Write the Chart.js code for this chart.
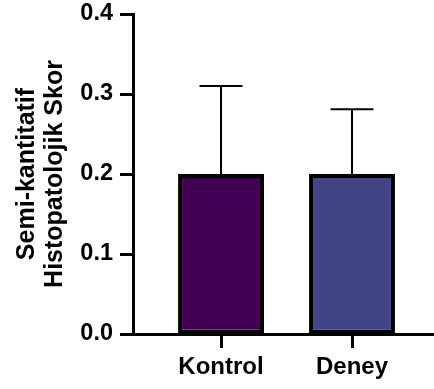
<!DOCTYPE html>
<html>
<head>
<meta charset="utf-8">
<script src="https://cdn.jsdelivr.net/npm/chart.js@4"></script>
<style>
  html, body { margin: 0; padding: 0; background: #fff; }
  #wrap { width: 434px; height: 389px; }
</style>
</head>
<body>
<div id="wrap"><canvas id="skorChart"></canvas></div>
<script>
// data
const groups = ['Kontrol', 'Deney'];
const means = [0.2, 0.2];
const errors = [0.11, 0.081];
const barColors = ['#440154', '#414487'];
const yTicks = [0, 0.1, 0.2, 0.3, 0.4];

const FONT = "'Liberation Sans', Arial, Helvetica, sans-serif";

// simple error bar drawer (top whisker only)
const errorBars = {
    id: 'errorBars',
    beforeDatasetsDraw(chart) {
        const ctx = chart.ctx;
        const meta = chart.getDatasetMeta(0);
        const y = chart.scales.y;
        ctx.save();
        ctx.strokeStyle = '#000';
        ctx.lineWidth = 2;
        meta.data.forEach((bar, i) => {
            const yTop = y.getPixelForValue(means[i] + errors[i]);
            const yMid = y.getPixelForValue(means[i]);
            const half = bar.width / 4;
            ctx.beginPath();
            ctx.moveTo(bar.x, yMid);
            ctx.lineTo(bar.x, yTop);
            ctx.moveTo(bar.x - half, yTop);
            ctx.lineTo(bar.x + half, yTop);
            ctx.stroke();
        });
        ctx.restore();
    }
};

const ctx = document.getElementById('skorChart').getContext('2d');
const chart = new Chart(ctx, {
    type: 'bar',
    data: {
        datasets: [{
            data: groups.map((g, i) => ({ x: i + 1, y: means[i] })),
            backgroundColor: barColors,
            borderColor: '#000',
            borderWidth: 4,
            borderSkipped: false,
            categoryPercentage: 1,
            barPercentage: 0.656
        }]
    },
    options: {
        responsive: true,
        maintainAspectRatio: false,
        animation: false,
        devicePixelRatio: 1,
        layout: { padding: { top: 14, right: 0, bottom: 0, left: 0 } },
        plugins: {
            legend: { display: false },
            tooltip: { enabled: false }
        },
        scales: {
            x: {
                type: 'linear',
                min: 0.328,
                max: 2.626,
                offset: false,
                afterBuildTicks: (scale) => {
                    scale.ticks = groups.map((g, i) => ({ value: i + 1 }));
                },
                afterFit: (scale) => { scale.height = 55; },
                border: { display: true, color: '#000', width: 3 },
                grid: {
                    offset: false,
                    drawOnChartArea: false,
                    drawTicks: true,
                    tickLength: 14,
                    tickWidth: 3,
                    tickColor: '#000'
                },
                ticks: {
                    padding: 5,
                    color: '#000',
                    font: { family: FONT, size: 24, weight: 'bold' },
                    callback: (v) => groups[Math.round(v) - 1] || ''
                }
            },
            y: {
                min: 0,
                max: 0.4,
                afterBuildTicks: (scale) => {
                    scale.ticks = yTicks.map(v => ({ value: v }));
                },
                afterFit: (scale) => {
                    scale.width = 133;
                    scale.paddingTop = 0;
                },
                border: { display: true, color: '#000', width: 3 },
                grid: {
                    drawOnChartArea: false,
                    drawTicks: true,
                    tickLength: 13,
                    tickWidth: 3,
                    tickColor: '#000'
                },
                ticks: {
                    padding: 7,
                    color: '#000',
                    font: { family: FONT, size: 23.5, weight: 'bold', lineHeight: 1 },
                    callback: (v) => Number(v).toFixed(1)
                },
                title: {
                    display: true,
                    text: ['Semi-kantitatif', 'Histopatolojik Skor'],
                    color: '#000',
                    padding: { top: 13, bottom: 0 },
                    font: { family: FONT, size: 25, weight: 'bold', lineHeight: 1.12 }
                }
            }
        }
    },
    plugins: [errorBars]
});
</script>
</body>
</html>
